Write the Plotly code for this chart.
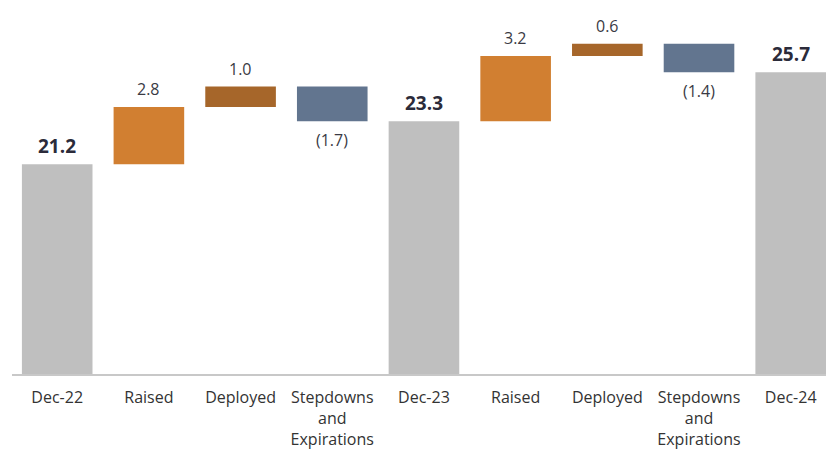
import plotly.graph_objects as go

categories = ["Dec-22", "Raised", "Deployed", "Stepdowns<br>and<br>Expirations",
              "Dec-23", "Raised", "Deployed", "Stepdowns<br>and<br>Expirations", "Dec-24"]
kinds = ["total", "up", "up", "down", "total", "up", "up", "down", "total"]
values = [21.2, 2.8, 1.0, -1.7, 23.3, 3.2, 0.6, -1.4, 25.7]
labels = ["21.2", "2.8", "1.0", "(1.7)", "23.3", "3.2", "0.6", "(1.4)", "25.7"]
colors = ["#BFBFBF", "#D17F31", "#A6662A", "#62758F", "#BFBFBF",
          "#D17F31", "#A6662A", "#62758F", "#BFBFBF"]

# compute bar bases (waterfall)
bases = []
running = 0.0
for k, v in zip(kinds, values):
    if k == "total":
        bases.append(0.0)
        running = v
    else:
        bases.append(running)
        running += v

xs = list(range(len(categories)))

fig = go.Figure()
fig.add_trace(go.Bar(
    x=xs, y=values, base=bases,
    marker=dict(color=colors, line=dict(width=0)),
    width=0.77, hoverinfo="skip", showlegend=False,
))

font_family = "Open Sans"
for i, (k, v, b, lab) in enumerate(zip(kinds, values, bases, labels)):
    end = b + v
    if k == "total":
        fig.add_annotation(x=i, y=end, text="<b>" + lab + "</b>", showarrow=False,
                           yanchor="bottom", yshift=3,
                           font=dict(family=font_family, size=19, color="#2B2B3A"))
    elif v >= 0:
        fig.add_annotation(x=i, y=end, text=lab, showarrow=False,
                           yanchor="bottom", yshift=5,
                           font=dict(family=font_family, size=16, color="#3A3A44"))
    else:
        fig.add_annotation(x=i, y=end, text=lab, showarrow=False,
                           yanchor="top", yshift=-6,
                           font=dict(family=font_family, size=16, color="#3A3A44"))

fig.update_layout(
    width=826, height=451,
    margin=dict(l=12, r=0, t=0, b=77),
    paper_bgcolor="white", plot_bgcolor="white",
    bargap=0.23,
    font=dict(family=font_family, color="#333333"),
    xaxis=dict(
        range=[-0.493, 8.385],
        tickmode="array", tickvals=xs, ticktext=categories,
        showgrid=False, zeroline=False, ticks="",
        showline=True, linecolor="#C8C8C8", linewidth=1.5,
        tickfont=dict(family=font_family, size=16, color="#333333"),
        ticklabelstandoff=8,
        fixedrange=True,
    ),
    yaxis=dict(
        range=[10.93, 29.24],
        visible=False, showgrid=False, zeroline=False,
        fixedrange=True,
    ),
)

fig.write_html("out.html")
